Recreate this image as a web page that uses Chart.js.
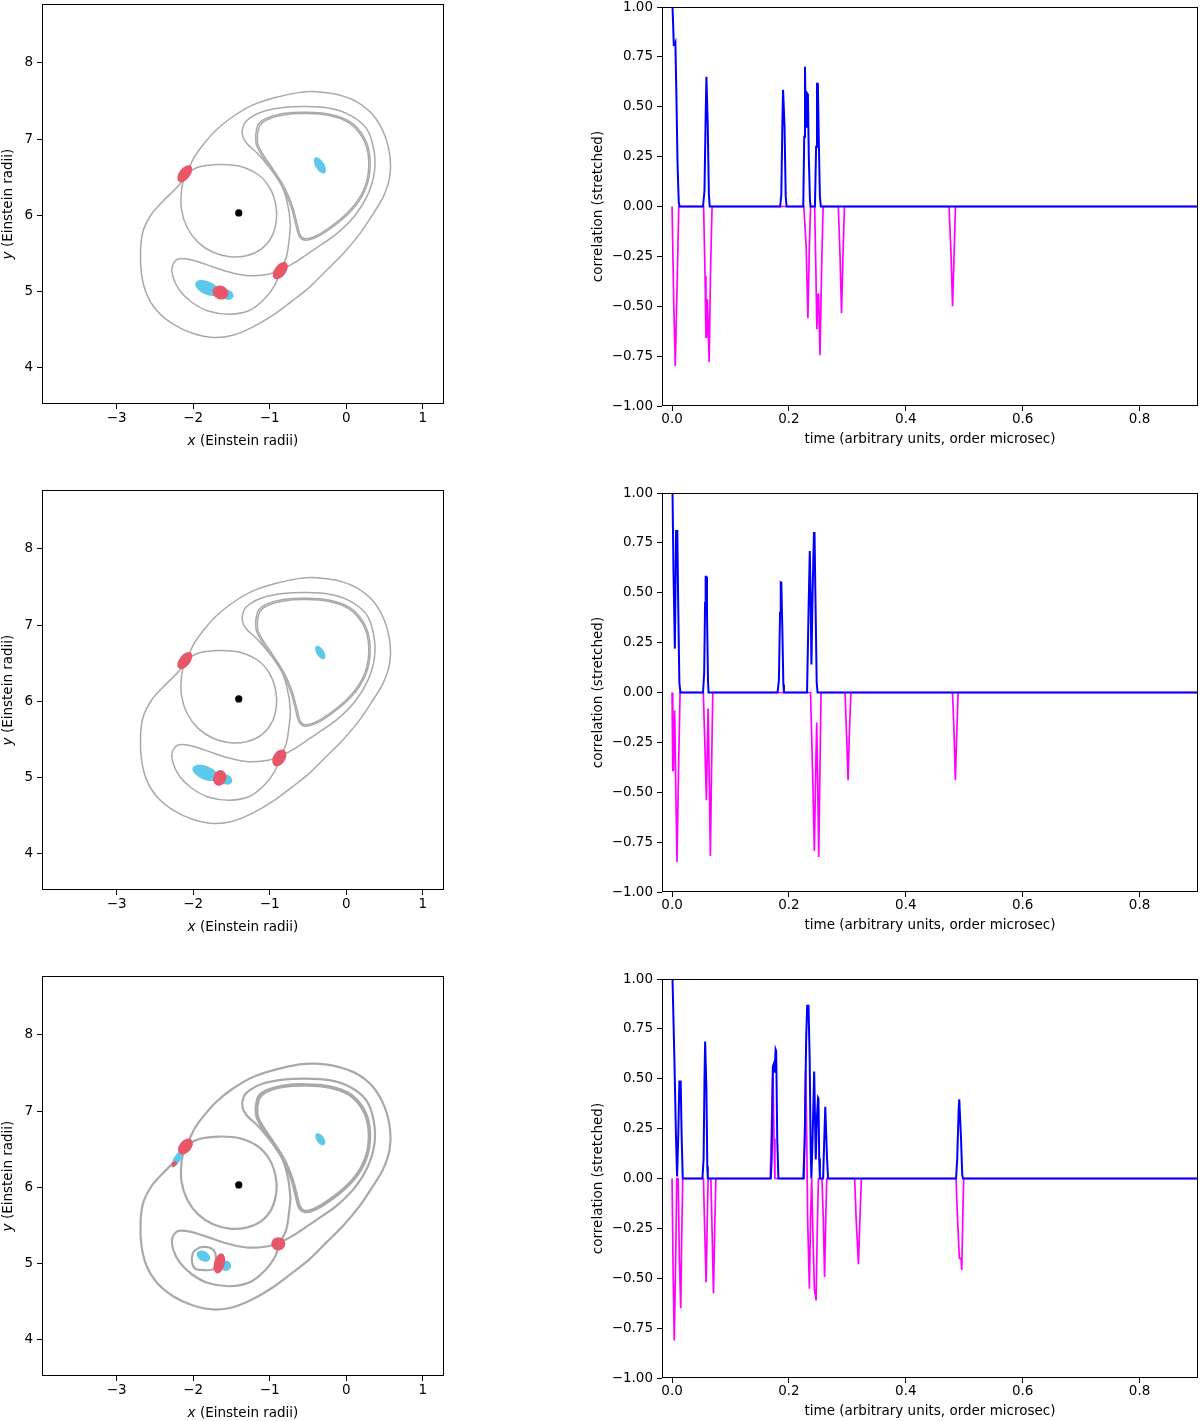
<!DOCTYPE html>
<html>
<head>
<meta charset="utf-8">
<script src="https://cdn.jsdelivr.net/npm/chart.js@4.4.1/dist/chart.umd.min.js"></script>
<style>
    body { margin: 0; background: #fff; width: 1200px; height: 1421px; position: relative; overflow: hidden; }
    canvas { position: absolute; }
</style>
</head>
<body>
<canvas id="map1" width="450" height="450" style="left:0;top:0"></canvas>
<canvas id="corr1" width="620" height="450" style="left:580px;top:0"></canvas>
<canvas id="map2" width="450" height="450" style="left:0;top:486px"></canvas>
<canvas id="corr2" width="620" height="450" style="left:580px;top:486px"></canvas>
<canvas id="map3" width="450" height="450" style="left:0;top:972px"></canvas>
<canvas id="corr3" width="620" height="450" style="left:580px;top:972px"></canvas>
<script>
// ---- tick labels ----
const mapXTicks  = [-3, -2, -1, 0, 1];
const mapYTicks  = [4, 5, 6, 7, 8];
const corrXTicks = [0, 0.2, 0.4, 0.6, 0.8];
const corrYTicks = [-1, -0.75, -0.5, -0.25, 0, 0.25, 0.5, 0.75, 1];

// ---- lens position (Einstein radii) ----
const lensPos = [-1.405, 6.03];

// ---- contour curves (Einstein radii) ----
const outerLoop = [
    [-2.045, 6.644], [-1.980, 6.775], [-1.871, 6.927], [-1.697, 7.123], [-1.480, 7.297],
    [-1.218, 7.449], [-0.914, 7.549], [-0.609, 7.614], [-0.392, 7.623], [-0.131, 7.588],
    [0.131, 7.493], [0.348, 7.319], [0.500, 7.058], [0.574, 6.753], [0.566, 6.492],
    [0.479, 6.231], [0.348, 6.013], [0.174, 5.752], [-0.044, 5.491], [-0.261, 5.273],
    [-0.479, 5.056], [-0.696, 4.882], [-0.957, 4.686], [-1.218, 4.533], [-1.480, 4.424],
    [-1.741, 4.394], [-2.002, 4.446], [-2.263, 4.568], [-2.480, 4.751], [-2.611, 4.969],
    [-2.676, 5.230], [-2.689, 5.534], [-2.654, 5.795], [-2.546, 6.013], [-2.393, 6.187],
    [-2.219, 6.361], [-2.111, 6.492], [-2.045, 6.644]
];
const innerCircle = [
    [-2.111, 6.544], [-1.915, 6.636], [-1.654, 6.666], [-1.393, 6.644], [-1.153, 6.535],
    [-1.001, 6.361], [-0.923, 6.144], [-0.914, 5.926], [-0.979, 5.708], [-1.110, 5.556],
    [-1.305, 5.469], [-1.523, 5.456], [-1.741, 5.513], [-1.936, 5.643], [-2.080, 5.839],
    [-2.154, 6.078], [-2.154, 6.318], [-2.111, 6.544]
];
const lowerLoop = [
    [-0.862, 5.273], [-1.044, 5.221], [-1.305, 5.208], [-1.567, 5.264], [-1.828, 5.351],
    [-2.045, 5.417], [-2.198, 5.425], [-2.272, 5.338], [-2.263, 5.186], [-2.176, 5.012],
    [-2.023, 4.860], [-1.806, 4.742], [-1.523, 4.699], [-1.262, 4.751], [-1.066, 4.903],
    [-0.936, 5.077], [-0.862, 5.273]
];
const kidneyOuter = [
    [-0.862, 5.273], [-0.783, 5.447], [-0.748, 5.665], [-0.731, 5.883], [-0.775, 6.187],
    [-0.870, 6.448], [-1.010, 6.635], [-1.153, 6.805], [-1.305, 6.949], [-1.358, 7.057],
    [-1.340, 7.188], [-1.262, 7.275], [-1.088, 7.362], [-0.827, 7.414], [-0.522, 7.427],
    [-0.218, 7.406], [0.044, 7.319], [0.261, 7.144], [0.357, 6.883], [0.370, 6.579],
    [0.283, 6.274], [0.109, 5.991], [-0.131, 5.752], [-0.392, 5.569], [-0.653, 5.391],
    [-0.862, 5.273]
];
const kidneyInnerA = [
    [-1.184, 7.057], [-1.153, 7.188], [-1.044, 7.275], [-0.827, 7.336], [-0.522, 7.353],
    [-0.218, 7.327], [0.044, 7.232], [0.226, 7.036], [0.305, 6.797], [0.296, 6.492],
    [0.196, 6.231], [0.022, 6.013], [-0.218, 5.817], [-0.413, 5.700], [-0.544, 5.674],
    [-0.618, 5.730], [-0.661, 5.883], [-0.718, 6.100], [-0.827, 6.361], [-0.979, 6.601],
    [-1.110, 6.797], [-1.175, 6.927], [-1.184, 7.057]
];
const kidneyInnerB = [
    [-1.162, 7.053], [-1.131, 7.175], [-1.031, 7.258], [-0.822, 7.318], [-0.522, 7.335],
    [-0.222, 7.309], [0.031, 7.216], [0.209, 7.025], [0.287, 6.792], [0.278, 6.492],
    [0.180, 6.240], [0.009, 6.026], [-0.228, 5.832], [-0.420, 5.717], [-0.540, 5.691],
    [-0.602, 5.743], [-0.643, 5.889], [-0.700, 6.106], [-0.810, 6.370], [-0.962, 6.611],
    [-1.092, 6.807], [-1.155, 6.931], [-1.162, 7.053]
];
const smallLoop3 = [
    [-2.002, 5.151], [-1.915, 5.208], [-1.793, 5.208], [-1.719, 5.151], [-1.706, 5.021],
    [-1.741, 4.921], [-1.871, 4.912], [-1.980, 4.934], [-2.019, 5.042], [-2.002, 5.151]
];

// ---- image spots: [x, y, semi-major, semi-minor, angle deg] ----
const blueSpots1 = [[-0.345, 6.655, 0.12, 0.058, -58], [-1.819, 5.045, 0.165, 0.088, -24], [-1.555, 4.956, 0.085, 0.065, -20]];
const redSpots1  = [[-2.110, 6.545, 0.13, 0.072, 52], [-0.862, 5.272, 0.13, 0.075, 52], [-1.645, 4.985, 0.105, 0.09, -20]];
const blueSpots2 = [[-0.339, 6.641, 0.10, 0.05, -58], [-1.840, 5.060, 0.18, 0.09, -22], [-1.567, 4.969, 0.08, 0.065, -20]];
const redSpots2  = [[-2.110, 6.535, 0.13, 0.072, 52], [-0.875, 5.256, 0.12, 0.08, 58], [-1.654, 4.992, 0.105, 0.085, 70]];
const blueSpots3 = [[-0.339, 6.631, 0.09, 0.05, -55], [-2.211, 6.370, 0.125, 0.045, 58], [-1.867, 5.095, 0.095, 0.065, -30], [-1.575, 4.969, 0.07, 0.068, 0]];
const redSpots3  = [[-2.250, 6.305, 0.04, 0.03, 55], [-2.102, 6.535, 0.12, 0.078, 50], [-0.888, 5.256, 0.092, 0.088, 0], [-1.658, 4.999, 0.135, 0.07, 75]];

// ---- correlation traces: [time, value] ----
const corrPos1 = [
    [0.0008, 1.0], [0.003, 0.81], [0.0045, 0.81], [0.0057, 0.82], [0.0075, 0.55], [0.0095, 0.2], [0.0115, 0.02], [0.013, 0],
    [0.053, 0], [0.0555, 0.08], [0.0575, 0.45], [0.0588, 0.65], [0.0598, 0.65], [0.061, 0.42], [0.063, 0.06], [0.0645, 0],
    [0.185, 0], [0.187, 0.06], [0.1888, 0.42], [0.19, 0.585], [0.1912, 0.585], [0.1925, 0.4], [0.1945, 0.05], [0.196, 0],
    [0.2245, 0], [0.2262, 0.35], [0.2275, 0.7], [0.2288, 0.4], [0.23, 0.4], [0.2315, 0.565], [0.2325, 0.56], [0.234, 0.25], [0.236, 0.03], [0.237, 0],
    [0.2445, 0], [0.2465, 0.3], [0.248, 0.615], [0.2495, 0.615], [0.251, 0.35], [0.253, 0.05], [0.2545, 0],
    [0.9, 0]
];
const corrNeg1 = [
    [0, 0], [0.003, -0.5], [0.0055, -0.8], [0.0065, -0.8], [0.009, -0.35], [0.0115, 0],
    [0.054, 0], [0.0565, -0.35], [0.058, -0.655], [0.059, -0.655], [0.0605, -0.465], [0.0615, -0.465], [0.0635, -0.78], [0.066, -0.3], [0.0685, 0],
    [0.2255, 0], [0.2295, -0.2], [0.2325, -0.56], [0.235, -0.2], [0.237, 0],
    [0.244, 0], [0.246, -0.3], [0.2478, -0.615], [0.2495, -0.44], [0.2508, -0.44], [0.2532, -0.745], [0.256, -0.3], [0.2585, 0],
    [0.2845, 0], [0.2875, -0.25], [0.29, -0.535], [0.2925, -0.25], [0.295, 0],
    [0.474, 0], [0.4775, -0.25], [0.48, -0.5], [0.4825, -0.25], [0.485, 0],
    [0.9, 0]
];
const corrPos2 = [
    [0.0008, 1.0], [0.0025, 0.6], [0.0048, 0.22], [0.0062, 0.6], [0.0069, 0.81], [0.009, 0.81], [0.0105, 0.45], [0.0125, 0.05], [0.0143, 0],
    [0.053, 0], [0.055, 0.1], [0.0565, 0.45], [0.0575, 0.58], [0.0585, 0.58], [0.0598, 0.4], [0.0615, 0.06], [0.0625, 0],
    [0.1805, 0], [0.1828, 0.06], [0.1848, 0.4], [0.186, 0.552], [0.187, 0.55], [0.1885, 0.35], [0.1905, 0.04], [0.1915, 0],
    [0.231, 0], [0.2335, 0.4], [0.2357, 0.709], [0.2372, 0.45], [0.2385, 0.14], [0.2405, 0.5], [0.2428, 0.8], [0.2438, 0.8], [0.2455, 0.45], [0.2475, 0.05], [0.249, 0],
    [0.9, 0]
];
const corrNeg2 = [
    [0, 0], [0.0012, -0.39], [0.0022, -0.39], [0.0045, -0.09], [0.0065, -0.5], [0.0085, -0.85], [0.011, -0.4], [0.0137, 0],
    [0.0535, 0], [0.0565, -0.3], [0.0588, -0.54], [0.0605, -0.25], [0.0617, -0.08], [0.0635, -0.4], [0.0656, -0.82], [0.0675, -0.4], [0.0697, 0],
    [0.237, 0], [0.2405, -0.4], [0.2435, -0.795], [0.2458, -0.4], [0.2475, -0.15], [0.2492, -0.45], [0.251, -0.825], [0.253, -0.4], [0.255, 0],
    [0.296, 0], [0.2985, -0.2], [0.3012, -0.44], [0.3035, -0.2], [0.306, 0],
    [0.48, 0], [0.4825, -0.2], [0.4848, -0.44], [0.4872, -0.2], [0.4895, 0],
    [0.9, 0]
];
const corrPos3 = [
    [0.0008, 1.0], [0.004, 0.6], [0.0068, 0.2], [0.0086, 0.01], [0.0105, 0.2], [0.0125, 0.486], [0.0148, 0.486], [0.0165, 0.2], [0.0183, 0],
    [0.052, 0], [0.054, 0.1], [0.0555, 0.5], [0.0566, 0.687], [0.0574, 0.687], [0.0588, 0.45], [0.0603, 0.06], [0.0612, 0],
    [0.169, 0], [0.1705, 0.1], [0.1725, 0.56], [0.1745, 0.578], [0.1755, 0.53], [0.1772, 0.648], [0.1782, 0.64], [0.18, 0.2], [0.182, 0],
    [0.2247, 0], [0.227, 0.2], [0.2295, 0.7], [0.2312, 0.866], [0.2335, 0.866], [0.2355, 0.6], [0.2372, 0.15], [0.2384, 0],
    [0.2405, 0.2], [0.2432, 0.536], [0.2442, 0.536], [0.2459, 0.095], [0.2478, 0.3], [0.2498, 0.405], [0.2506, 0.4], [0.2518, 0.1], [0.253, 0],
    [0.2585, 0], [0.2605, 0.2], [0.2622, 0.36], [0.2632, 0.36], [0.2652, 0.1], [0.267, 0],
    [0.486, 0], [0.488, 0.1], [0.4905, 0.35], [0.4915, 0.397], [0.4925, 0.397], [0.4945, 0.2], [0.4965, 0.02], [0.498, 0],
    [0.9, 0]
];
const corrNeg3 = [
    [0, 0], [0.002, -0.5], [0.0038, -0.812], [0.0048, -0.812], [0.0065, -0.35], [0.008, 0],
    [0.0105, 0], [0.0125, -0.4], [0.0149, -0.65], [0.0165, -0.3], [0.0183, 0],
    [0.0537, 0], [0.0558, -0.25], [0.0583, -0.52], [0.0603, -0.2], [0.0617, 0],
    [0.0665, 0], [0.0688, -0.3], [0.0709, -0.575], [0.073, -0.25], [0.075, 0],
    [0.168, 0], [0.1705, 0.3], [0.1725, 0.56], [0.1745, 0.2], [0.176, 0],
    [0.226, 0], [0.2285, 0.54], [0.2305, 0.2], [0.232, -0.2], [0.235, -0.553], [0.237, -0.2], [0.239, 0],
    [0.2408, -0.25], [0.2436, -0.553], [0.2465, -0.611], [0.2485, -0.25], [0.2505, 0],
    [0.2565, 0], [0.2588, -0.2], [0.261, -0.494], [0.263, -0.2], [0.2648, 0],
    [0.3125, 0], [0.315, -0.2], [0.319, -0.43], [0.3215, -0.2], [0.324, 0],
    [0.486, 0], [0.4885, -0.2], [0.4917, -0.4], [0.4945, -0.4], [0.4957, -0.46], [0.4975, -0.2], [0.499, 0],
    [0.9, 0]
];

// ---- styling ----
const FONT      = { family: 'DejaVu Sans', size: 13.5 };
const INK       = '#000';
const GREY      = '#a9a9a9';
const SPOT_BLUE = '#5ec8eb';
const SPOT_RED  = '#e8566a';

const xy       = (p) => ({ x: p[0], y: p[1] });
const minus    = (s) => String(s).replace('-', '\u2212');
const tickGrid = { display: true, drawOnChartArea: false, drawTicks: true, tickLength: 5, color: INK, lineWidth: 1 };

const framePlugin = {
    id: 'frame',
    afterDraw (chart)
    {
        const { ctx, chartArea: a } = chart;
        ctx.save();
        ctx.strokeStyle = INK;
        ctx.lineWidth   = 1;
        ctx.strokeRect(Math.round(a.left) + 0.5, Math.round(a.top) + 0.5,
            Math.round(a.right - a.left) - 1, Math.round(a.bottom - a.top) - 1);
        ctx.restore();
    }
};

// axis labels with an italic symbol, like "x (Einstein radii)"
function mathLabel (ctx, sym, rest, cx, cy, rot)
{
    const font = (italic) => (italic ? 'italic ' : '') + FONT.size + 'px "' + FONT.family + '"';

    ctx.save();
    ctx.translate(cx, cy);
    ctx.rotate(rot);
    ctx.font = font(true);
    const w1 = ctx.measureText(sym).width;
    ctx.font = font(false);
    const w2 = ctx.measureText(rest).width;

    ctx.textAlign    = 'left';
    ctx.textBaseline = 'middle';
    ctx.fillStyle    = INK;
    ctx.font         = font(true);
    ctx.fillText(sym, -(w1 + w2) / 2, 0);
    ctx.font         = font(false);
    ctx.fillText(rest, -(w1 + w2) / 2 + w1, 0);
    ctx.restore();
}

const mapTitles = {
    id: 'mapTitles',
    afterDraw (chart)
    {
        const { ctx, chartArea: a, height } = chart;
        mathLabel(ctx, 'x', ' (Einstein radii)', (a.left + a.right) / 2, height - 9, 0);
        mathLabel(ctx, 'y', ' (Einstein radii)', 8.3, (a.top + a.bottom) / 2, -Math.PI / 2);
    }
};

function spotLayer (blue, red)
{
    return {
        id: 'spots',
        afterDatasetsDraw (chart)
        {
            const { ctx, scales: { x, y } } = chart;
            const paint = (list, color) => list.forEach(([cx, cy, a, b, ang]) => {
                const px = x.getPixelForValue(cx);
                const py = y.getPixelForValue(cy);
                const ra = Math.abs(x.getPixelForValue(cx + a) - px);
                const rb = Math.abs(y.getPixelForValue(cy + b) - py);

                ctx.beginPath();
                ctx.ellipse(px, py, ra, rb, -ang * Math.PI / 180, 0, Math.PI * 2);
                ctx.fillStyle = color;
                ctx.fill();
            });

            ctx.save();
            paint(blue, SPOT_BLUE);
            paint(red, SPOT_RED);
            ctx.restore();
        }
    };
}

function axis (min, max, ticks, fmt, title, size, tickPad, titlePad)
{
    return {
        type: 'linear',
        min: min,
        max: max,
        afterBuildTicks: (s) => { s.ticks = ticks.map((v) => ({ value: v })); },
        afterFit: (s) => {
            size(s);
            s.paddingTop = 0; s.paddingBottom = 0; s.paddingLeft = 0; s.paddingRight = 0;
        },
        ticks: { callback: fmt, color: INK, font: FONT, padding: tickPad, autoSkip: false, maxRotation: 0 },
        grid: tickGrid,
        border: { display: false },
        title: { display: title !== null, text: title || '', color: INK, font: FONT, padding: titlePad }
    };
}

function mapChart (id, blue, red, extra, width)
{
    const loops    = [outerLoop, innerCircle, lowerLoop, kidneyOuter, kidneyInnerA, kidneyInnerB].concat(extra);
    const datasets = [{
        data: [xy(lensPos)], showLine: false, pointRadius: 3.6, pointBackgroundColor: INK, pointBorderWidth: 0
    }];

    loops.forEach((l) => datasets.push({
        data: l.map(xy), showLine: true, borderColor: GREY, borderWidth: width, pointRadius: 0, tension: 0.3, fill: false
    }));

    new Chart(document.getElementById(id), {
        type: 'scatter',
        data: { datasets: datasets },
        options: {
            responsive: false, animation: false, events: [], devicePixelRatio: 1,
            layout: { padding: { left: 0, right: 6, top: 2, bottom: 0 } },
            plugins: { legend: { display: false }, tooltip: { enabled: false } },
            scales: {
                x: axis(-3.977, 1.278, mapXTicks, (v) => minus(v), null,
                    (s) => { s.height = 46; }, 1, 0),
                y: axis(3.52, 8.775, mapYTicks, (v) => minus(v), null,
                    (s) => { s.width = 42; }, 4, 0)
            }
        },
        plugins: [spotLayer(blue, red), framePlugin, mapTitles]
    });
}

function corrChart (id, pos, neg)
{
    new Chart(document.getElementById(id), {
        type: 'scatter',
        data: {
            datasets: [
                { data: pos.map(xy), showLine: true, borderColor: '#0000ff', borderWidth: 2, pointRadius: 0, tension: 0 },
                { data: neg.map(xy), showLine: true, borderColor: '#ff00ff', borderWidth: 1.7, pointRadius: 0, tension: 0 }
            ]
        },
        options: {
            responsive: false, animation: false, events: [], devicePixelRatio: 1,
            layout: { padding: { left: 0, right: 2, top: 7, bottom: 0 } },
            plugins: { legend: { display: false }, tooltip: { enabled: false } },
            scales: {
                x: axis(-0.0172, 0.9, corrXTicks, (v) => v.toFixed(1), 'time (arbitrary units, order microsec)',
                    (s) => { s.height = 44; }, 0, { top: 0, bottom: 2 }),
                y: axis(-1, 1, corrYTicks, (v) => minus(v.toFixed(2)), 'correlation (stretched)',
                    (s) => { s.width = 82; }, 4, { top: 10, bottom: 0 })
            }
        },
        plugins: [framePlugin]
    });
}

mapChart('map1', blueSpots1, redSpots1, [], 1.5);
mapChart('map2', blueSpots2, redSpots2, [], 1.5);
mapChart('map3', blueSpots3, redSpots3, [smallLoop3], 2.2);

corrChart('corr1', corrPos1, corrNeg1);
corrChart('corr2', corrPos2, corrNeg2);
corrChart('corr3', corrPos3, corrNeg3);
</script>
</body>
</html>
